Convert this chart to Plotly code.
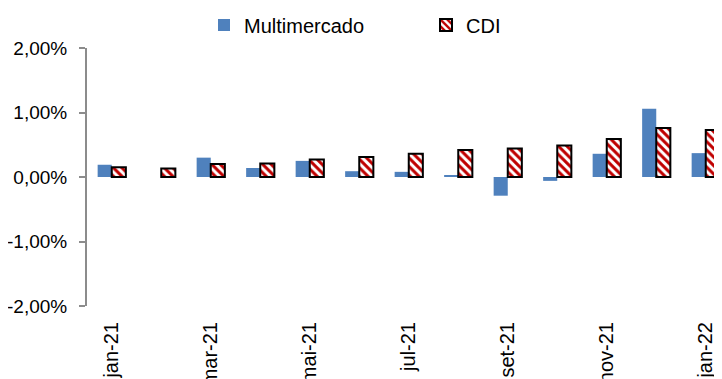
import numpy as np
import plotly.graph_objects as go

# monthly returns (%), jan-21 .. jan-22
months = ["jan-21", "fev-21", "mar-21", "abr-21", "mai-21", "jun-21", "jul-21",
          "ago-21", "set-21", "out-21", "nov-21", "dez-21", "jan-22"]
multimercado = [0.19, 0.00, 0.30, 0.14, 0.25, 0.09, 0.08, 0.02, -0.29, -0.06, 0.36, 1.06, 0.37]
cdi = [0.15, 0.13, 0.20, 0.21, 0.27, 0.31, 0.36, 0.42, 0.44, 0.49, 0.59, 0.76, 0.73]

y_ticks = [-2, -1, 0, 1, 2]
y_ticktext = ["-2,00%", "-1,00%", "0,00%", "1,00%", "2,00%"]

FONT = "Liberation Sans, Arial, sans-serif"
AXIS_GRAY = "#8c8c8c"

x = np.arange(len(months))
x_range = [-0.5, 12.49]

# page body adds an 8px offset, margins below compensate for it
fig = go.Figure()
fig.add_trace(go.Bar(
    x=x, y=multimercado, name="Multimercado",
    marker=dict(color="#4f81bd", line=dict(width=0)),
))
fig.add_trace(go.Bar(
    x=x, y=cdi, name="CDI",
    marker=dict(
        color="white",
        line=dict(color="black", width=2),
        pattern=dict(shape="\\", fgcolor="#c00000", bgcolor="white",
                     size=6, solidity=0.5, fillmode="replace"),
    ),
))

fig.update_layout(
    width=722, height=379,
    margin=dict(l=79, r=0, t=40, b=81, autoexpand=False),
    paper_bgcolor="white", plot_bgcolor="white",
    font=dict(family=FONT, size=19, color="black"),
    barmode="group", bargap=0.43, bargroupgap=0,
    showlegend=True,
    legend=dict(
        orientation="h", x=(196 - 79) / 643, xanchor="left",
        y=1.089, yanchor="middle",
        font=dict(size=20), entrywidth=177,
        itemwidth=30, traceorder="normal",
        bgcolor="rgba(0,0,0,0)",
    ),
    xaxis=dict(
        range=x_range, tickmode="array",
        tickvals=x[::2], ticktext=months[::2],
        tickangle=-90, ticks="", showline=False, showgrid=False,
        zeroline=False, tickfont=dict(size=20), ticklabelstandoff=11,
        automargin=False,
    ),
    xaxis2=dict(
        overlaying="x", anchor="free", position=0.5,
        range=x_range, tickmode="array",
        tickvals=np.arange(-0.5, 12.5, 2), showticklabels=False,
        ticks="outside", ticklen=6, tickwidth=2, tickcolor=AXIS_GRAY,
        showline=True, linecolor=AXIS_GRAY, linewidth=2,
        showgrid=False, zeroline=False, layer="above traces",
        automargin=False,
    ),
    yaxis=dict(
        range=[-2, 2], tickmode="array", tickvals=y_ticks, ticktext=y_ticktext,
        ticks="outside", ticklen=6, tickwidth=2, tickcolor=AXIS_GRAY,
        showline=True, linecolor=AXIS_GRAY, linewidth=2,
        showgrid=False, zeroline=False, ticklabelstandoff=8,
        automargin=False,
    ),
)

fig.write_html("out.html")
